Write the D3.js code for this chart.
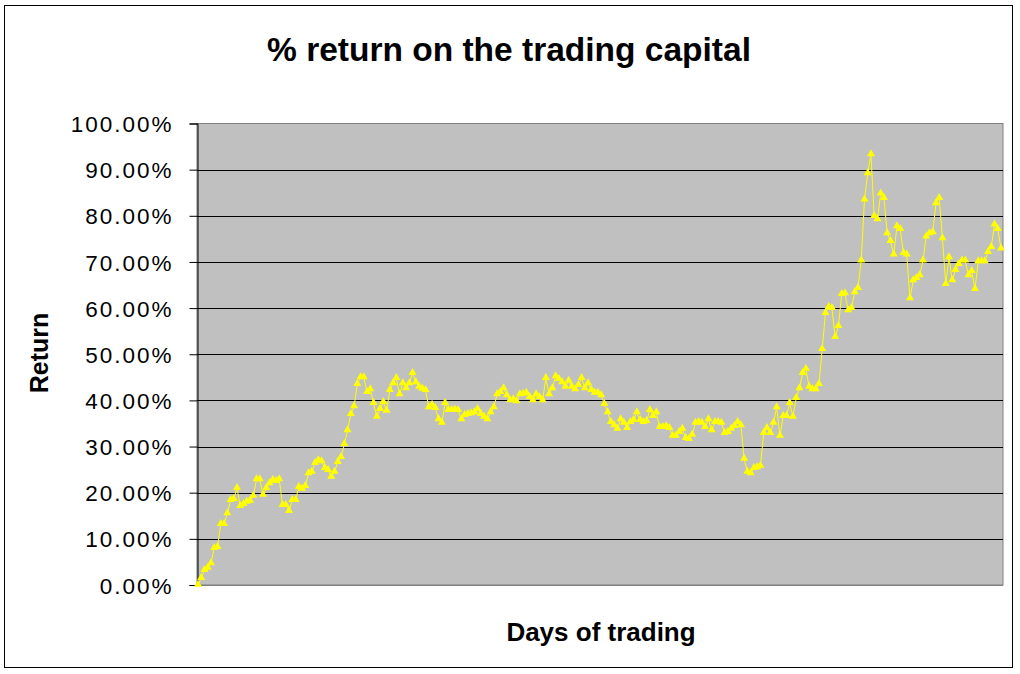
<!DOCTYPE html>
<html>
<head>
<meta charset="utf-8">
<script src="https://cdn.jsdelivr.net/npm/d3@7"></script>
<style>
  html, body { margin: 0; padding: 0; background: #ffffff; }
  svg { display: block; }
</style>
</head>
<body>
<svg id="chart" width="1020" height="674"></svg>
<script>
// ---- data (percent return per trading day) ----
const titleText = "% return on the trading capital";
const xAxisTitle = "Days of trading";
const yAxisTitle = "Return";
const yTickValues = [0, 10, 20, 30, 40, 50, 60, 70, 80, 90, 100];

const returnsPart1 = [0, 1.5, 3.2, 3.7, 4.7, 8, 8.2, 13.2, 13.2, 15.5, 18.4, 18.6, 21, 17.1, 17.5, 18, 18.2, 19.3, 22.9, 22.9,
  19.5, 21, 22, 22.7, 22.5, 22.9, 17.3, 17.3, 16, 18.4, 18.4, 21.2, 20.8, 21.4, 24.2, 24.5, 26.4, 27, 26.8, 25.3,
  24.9, 23.4, 24.5, 26.6, 27.7, 30.5, 33.5, 37, 38.7, 43.5, 45, 45, 41.8, 42.4, 39.4, 36.4, 38.1, 39.6, 37.7, 42.2, 43.7];
const returnsPart2 = [44.8, 41.3, 43.7, 42.6, 43.7, 45.9, 43.9, 42.9, 42.5, 42.2, 38.5, 39, 38.3, 35.9, 35.1, 39.4, 37.9, 37.9, 38.0, 37.9,
  35.9, 36.8, 37.0, 37.2, 37.4, 38.1, 37, 36.4, 35.9, 37.4, 38.5, 41.3, 41.8, 42.6, 41.1, 40, 40.2, 39.8, 41.3, 41.4,
  41.6, 40.7, 40, 41.3, 40.7, 40, 44.8, 41.3, 42.6, 45.2, 44.6, 43.9, 42.9, 44.2, 42.9, 42.4, 43.3, 44.8, 42.6, 43.7,
  42.2, 41.6];
const returnsPart3 = [41.6, 41.1, 39.2, 37.4, 35.3, 34.6, 33.8, 35.9, 35.1, 34, 35.3, 35.7, 37.4, 35.7, 35.3, 35.5, 37.9, 36.6, 37.4, 34.2,
  34.2, 34.4, 34, 32.3, 32.3, 33.1, 33.8, 31.8, 31.6, 32.5, 35.1, 35.3, 35.1, 34.2, 35.9, 33.5, 35.3, 35.3, 35.1, 32.9,
  33.1, 33.8, 34.4, 35.3, 34.6, 27.3, 24.5, 24.2, 25.3, 25.5, 25.8, 32.9, 34, 32.9, 35.1, 38.5, 32.3, 36.6, 36.6, 39.4,
  36.4, 40.5];
const returnsPart4 = [42.6, 45.9, 46.8, 42.9, 42.4, 42.4, 43.5, 51.1, 58.9, 60.2, 60, 53.7, 56.1, 63, 63.2, 59.5, 60, 63.4, 64.3, 70.3,
  83.5, 89.2, 93.3, 79.9, 79.2, 84.8, 83.8, 76.2, 74.5, 71.6, 77.7, 77.1, 71.9, 71.6, 62.1, 66, 66.5, 67.1, 70.3, 75.5,
  76.2, 76.4, 82.7, 83.8, 75.1, 65.2, 71, 66, 68.2, 69.5, 70.3, 70.3, 67.1, 68, 64.1, 70.1, 70.1, 70.1, 72.1, 73.2,
  78.1, 77.1, 72.9];
const returns = returnsPart1.concat(returnsPart2, returnsPart3, returnsPart4);

// ---- layout ----
const svg = d3.select("#chart");
const plot = { left: 197, right: 1003, top: 123.5, bottom: 585 };
const fontFamily = "'Liberation Sans', Arial, sans-serif";

// outer chart border
svg.append("rect")
  .attr("x", 4.5).attr("y", 5.5)
  .attr("width", 1008).attr("height", 662)
  .attr("fill", "#ffffff").attr("stroke", "#000000").attr("stroke-width", 1);

const x = d3.scaleLinear().domain([0, returns.length - 1]).range([plot.left + 1, plot.right - 2]);
const y = d3.scaleLinear().domain([0, 100]).range([plot.bottom, plot.top]);

// plot area
svg.append("rect")
  .attr("x", plot.left).attr("y", plot.top)
  .attr("width", plot.right - plot.left).attr("height", plot.bottom - plot.top)
  .attr("fill", "#c0c0c0").attr("stroke", "#808080").attr("stroke-width", 1);

// gridlines
svg.append("g")
  .selectAll("line")
  .data(yTickValues.filter(v => v > 0 && v < 100))
  .join("line")
  .attr("x1", plot.left).attr("x2", plot.right)
  .attr("y1", d => Math.round(y(d)) + 0.5).attr("y2", d => Math.round(y(d)) + 0.5)
  .attr("stroke", "#000000").attr("stroke-width", 1);

// y axis
const yAxis = d3.axisLeft(y)
  .tickValues(yTickValues)
  .tickSize(8)
  .tickPadding(16)
  .tickFormat(d => d3.format(".2f")(d) + "%");
const yAxisG = svg.append("g")
  .attr("transform", `translate(${plot.left + 0.5},0)`)
  .call(yAxis);
yAxisG.select(".domain").attr("stroke", "#000000");
yAxisG.selectAll(".tick line").attr("stroke", "#000000");
yAxisG.selectAll(".tick text")
  .attr("font-family", fontFamily)
  .attr("font-size", 22.5)
  .attr("letter-spacing", 2)
  .attr("fill", "#000000")
  .attr("dy", "0.36em");

// bottom axis line
svg.append("line")
  .attr("x1", plot.left).attr("x2", plot.right)
  .attr("y1", plot.bottom + 0.5).attr("y2", plot.bottom + 0.5)
  .attr("stroke", "#808080");

// series line
const line = d3.line().x((d, i) => x(i)).y(d => y(d));
svg.append("path")
  .datum(returns)
  .attr("d", line)
  .attr("fill", "none")
  .attr("stroke", "#ffff00")
  .attr("stroke-width", 1);

// triangle markers
const tri = d3.symbol().type(d3.symbolTriangle).size(28);
svg.append("g")
  .selectAll("path")
  .data(returns)
  .join("path")
  .attr("d", tri)
  .attr("transform", (d, i) => `translate(${x(i)},${y(d) - 0.5})`)
  .attr("fill", "#ffff00");

// titles
svg.append("text")
  .attr("x", 509).attr("y", 61)
  .attr("text-anchor", "middle")
  .attr("font-family", fontFamily)
  .attr("font-weight", "bold")
  .attr("font-size", 33.5)
  .text(titleText);

svg.append("text")
  .attr("x", 601).attr("y", 641)
  .attr("text-anchor", "middle")
  .attr("font-family", fontFamily)
  .attr("font-weight", "bold")
  .attr("font-size", 26)
  .text(xAxisTitle);

svg.append("text")
  .attr("transform", "translate(48,353) rotate(-90)")
  .attr("text-anchor", "middle")
  .attr("font-family", fontFamily)
  .attr("font-weight", "bold")
  .attr("font-size", 25)
  .text(yAxisTitle);
</script>
</body>
</html>
